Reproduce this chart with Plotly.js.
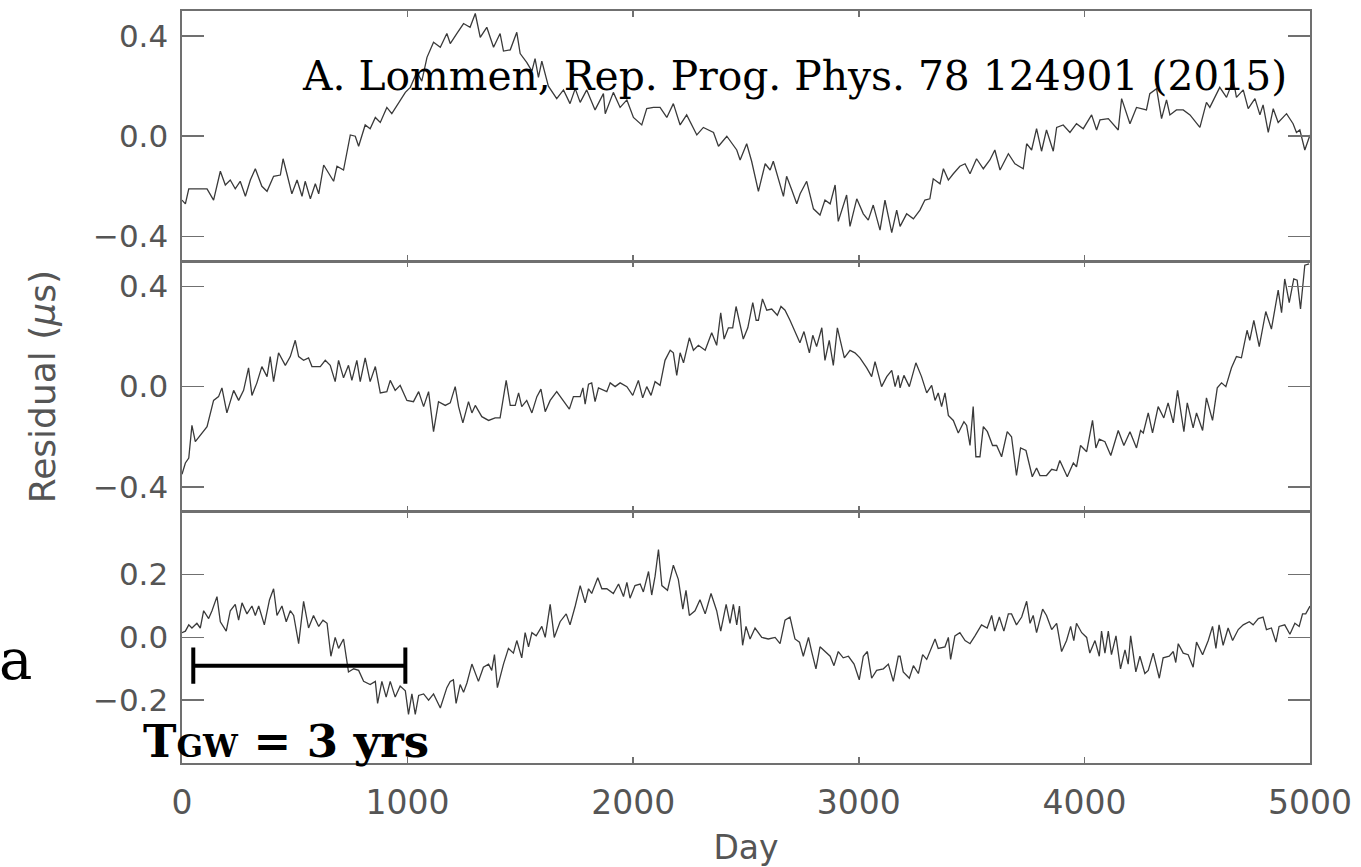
<!DOCTYPE html>
<html>
<head>
<meta charset="utf-8">
<script src="https://cdn.plot.ly/plotly-3.0.1.min.js"></script>
<style>html,body{margin:0;padding:0;background:#fff;}#chart{width:1361px;height:867px;}</style>
</head>
<body>
<div id="chart"></div>
<script>
// [day, residual (µs)], top panel
const topSeries = [[0,-0.255],[15,-0.27],[30,-0.21],[66,-0.21],[111,-0.21],[140,-0.255],[170,-0.14],[192,-0.195],[214,-0.175],[236,-0.21],[258,-0.18],[281,-0.24],[303,-0.175],[325,-0.13],[354,-0.2],[377,-0.22],[406,-0.16],[436,-0.155],[448,-0.09],[465,-0.15],[487,-0.23],[510,-0.175],[532,-0.24],[546,-0.18],[569,-0.25],[591,-0.19],[606,-0.23],[628,-0.115],[650,-0.15],[672,-0.18],[687,-0.12],[716,-0.135],[746,0.005],[768,0.0],[783,-0.04],[812,0.045],[834,0.03],[857,0.075],[879,0.055],[908,0.115],[930,0.09],[967,0.145],[990,0.175],[1012,0.195],[1041,0.255],[1063,0.22],[1086,0.315],[1115,0.375],[1145,0.355],[1174,0.41],
[1189,0.37],[1218,0.41],[1248,0.45],[1277,0.435],[1300,0.49],[1322,0.395],[1351,0.435],[1381,0.355],[1410,0.41],[1425,0.34],[1455,0.345],[1484,0.415],[1499,0.33],[1528,0.295],[1551,0.26],[1565,0.31],[1580,0.235],[1595,0.3],[1624,0.2],[1661,0.15],[1691,0.185],[1720,0.13],[1743,0.19],[1765,0.135],[1794,0.185],[1831,0.105],[1868,0.17],[1876,0.09],[1912,0.175],[1942,0.115],[1972,0.145],[2001,0.075],[2038,0.045],[2060,0.11],[2090,0.115],[2119,0.115],[2149,0.075],[2178,0.13],[2208,0.045],[2237,0.085],[2282,0.005],[2311,0.035],[2356,0.015],[2378,-0.04],[2415,0.0],[2459,-0.055],[2474,-0.095],[2503,-0.03],[2525,-0.1],[2555,-0.22],[2585,-0.11],[2607,-0.135],[2621,-0.1],[2666,-0.24],[2680,-0.16],[2703,-0.215],[2725,-0.27],[2740,-0.23],[2769,-0.18],[2799,-0.29],[2828,-0.315],[2850,-0.255],[2873,-0.27],[2895,-0.195],[2909,-0.34],[2946,-0.235],[2961,-0.36],[2991,-0.25],[3020,-0.31],[3042,-0.335],[3064,-0.275],[3094,-0.375],[3116,-0.255],[3146,-0.385],[3168,-0.295],
[3183,-0.36],[3212,-0.31],[3242,-0.33],[3271,-0.295],[3293,-0.255],[3315,-0.25],[3330,-0.17],[3360,-0.19],[3375,-0.13],[3397,-0.175],[3419,-0.15],[3448,-0.12],[3471,-0.11],[3493,-0.15],[3522,-0.09],[3552,-0.13],[3581,-0.095],[3603,-0.055],[3626,-0.135],[3663,-0.07],[3692,-0.11],[3729,-0.13],[3744,-0.03],[3766,-0.055],[3788,0.03],[3810,-0.06],[3832,0.025],[3862,-0.06],[3877,0.035],[3906,0.045],[3936,0.015],[3965,0.05],[3995,0.03],[4032,0.085],[4054,0.025],[4069,0.065],[4106,0.07],[4150,0.025],[4165,0.15],[4202,0.05],[4231,0.115],[4275,0.105],[4290,0.17],[4320,0.19],[4342,0.07],[4364,0.145],[4379,0.085],[4408,0.105],[4438,0.105],[4468,0.085],[4512,0.035],[4541,0.135],[4556,0.115],[4600,0.195],[4630,0.155],[4660,0.225],[4674,0.155],[4704,0.185],[4726,0.11],[4756,0.15],[4778,0.085],[4792,0.125],[4815,0.015],[4837,0.11],[4859,0.055],[4896,0.09],[4925,0.05],[4940,0.015],[4955,0.025],[4977,-0.055],[5000,0.005]];

// middle panel
const midSeries = [[0,-0.35],[15,-0.305],[30,-0.285],[44,-0.155],[59,-0.22],[81,-0.195],[111,-0.16],[140,-0.055],[162,-0.04],[177,-0.005],[199,-0.105],[229,-0.015],[251,-0.055],[273,-0.015],[295,0.075],[310,-0.035],[332,0.015],[354,0.08],[377,0.04],[391,0.12],[406,0.02],[428,0.135],[458,0.085],[480,0.12],[502,0.185],[517,0.12],[539,0.105],[561,0.115],[576,0.08],[613,0.08],[635,0.105],[657,0.085],[679,0.02],[694,0.105],[716,0.035],[738,0.085],[753,0.025],[775,0.105],[790,0.02],[812,0.115],[834,0.02],[857,0.08],[879,-0.025],[908,-0.02],[923,0.025],[945,-0.015],[967,0.005],[997,-0.055],[1026,-0.06],[1049,-0.02],[1071,-0.08],[1093,-0.02],[1115,-0.18],[1137,-0.06],[1167,-0.075],
[1189,-0.065],[1211,0.0],[1226,-0.08],[1245,-0.145],[1270,-0.06],[1285,-0.105],[1300,-0.075],[1329,-0.12],[1359,-0.135],[1388,-0.125],[1410,-0.125],[1437,0.025],[1455,-0.075],[1477,-0.075],[1492,-0.025],[1506,-0.08],[1528,-0.055],[1551,-0.105],[1573,-0.04],[1591,-0.01],[1610,-0.1],[1632,-0.055],[1661,-0.02],[1691,-0.06],[1717,-0.09],[1735,-0.04],[1765,-0.04],[1777,-0.005],[1787,-0.07],[1802,0.01],[1816,0.015],[1831,-0.06],[1846,-0.005],[1883,-0.02],[1898,0.015],[1920,0.0],[1942,0.015],[1972,0.0],[1998,-0.035],[2023,0.025],[2042,-0.045],[2060,0.0],[2079,-0.035],[2097,0.02],[2119,0.005],[2141,0.105],[2164,0.145],[2178,0.135],[2193,0.045],[2208,0.135],[2223,0.095],[2249,0.195],[2267,0.145],[2289,0.165],[2319,0.145],[2348,0.215],[2370,0.165],[2388,0.295],[2403,0.19],[2422,0.235],[2441,0.235],[2456,0.32],[2488,0.19],[2508,0.235],[2530,0.335],[2545,0.265],[2555,0.265],[2573,0.35],[2592,0.305],[2614,0.31],[2639,0.285],[2655,0.32],[2673,0.305],[2695,0.265],[2717,0.22],[2739,0.175],[2757,0.22],[2781,0.135],[2796,0.205],[2813,0.16],[2836,0.235],[2850,0.105],[2869,0.185],[2887,0.085],[2905,0.235],[2936,0.115],[2961,0.145],[2983,0.135],[3005,0.115],[3035,0.075],[3057,0.04],[3072,0.1],[3101,0.0],[3124,0.04],[3146,0.065],[3161,0.0],[3175,0.045],
[3183,-0.005],[3200,0.045],[3224,0.0],[3253,0.095],[3278,0.04],[3301,-0.025],[3323,0.005],[3338,-0.055],[3352,-0.025],[3367,-0.08],[3382,-0.025],[3397,-0.115],[3419,-0.135],[3441,-0.185],[3466,-0.14],[3478,-0.155],[3493,-0.235],[3507,-0.08],[3519,-0.28],[3537,-0.28],[3552,-0.16],[3570,-0.18],[3593,-0.235],[3611,-0.235],[3633,-0.28],[3658,-0.18],[3677,-0.2],[3699,-0.355],[3717,-0.245],[3741,-0.255],[3769,-0.36],[3788,-0.325],[3803,-0.355],[3832,-0.355],[3855,-0.33],[3877,-0.335],[3891,-0.295],[3924,-0.36],[3951,-0.305],[3965,-0.32],[3983,-0.235],[4010,-0.26],[4036,-0.135],[4051,-0.245],[4066,-0.21],[4091,-0.22],[4117,-0.275],[4150,-0.175],[4175,-0.235],[4202,-0.18],[4231,-0.245],[4249,-0.175],[4261,-0.185],[4283,-0.105],[4302,-0.185],[4327,-0.08],[4352,-0.125],[4371,-0.065],[4394,-0.145],[4413,-0.015],[4441,-0.18],[4456,-0.065],[4482,-0.165],[4497,-0.105],[4524,-0.175],[4541,-0.045],[4568,-0.135],[4589,-0.005],[4608,0.015],[4627,0.0],[4652,0.075],[4674,0.12],[4696,0.115],[4721,0.225],[4733,0.185],[4751,0.265],[4775,0.16],[4804,0.3],[4829,0.23],[4859,0.385],[4874,0.295],[4888,0.43],[4908,0.335],[4928,0.43],[4943,0.425],[4958,0.31],[4977,0.485],[4996,0.49]];

// bottom panel
const botSeries = [[0,0.015],[15,0.02],[30,0.04],[44,0.03],[66,0.045],[81,0.03],[96,0.085],[118,0.06],[133,0.085],[155,0.13],[170,0.05],[196,0.02],[214,0.085],[236,0.105],[251,0.055],[266,0.11],[288,0.075],[310,0.1],[325,0.07],[340,0.1],[365,0.04],[388,0.12],[406,0.155],[421,0.07],[443,0.1],[462,0.05],[480,0.085],[495,0.07],[517,-0.02],[539,0.115],[561,0.03],[583,0.07],[606,0.035],[625,0.055],[643,0.045],[660,-0.06],[679,0.0],[694,-0.035],[716,-0.005],[738,-0.11],[761,-0.1],[783,-0.105],[805,-0.14],[834,-0.15],[857,-0.14],[867,-0.21],[886,-0.14],[905,-0.19],[923,-0.14],[945,-0.19],[967,-0.155],[990,-0.17],[1004,-0.245],[1019,-0.18],[1034,-0.245],[1049,-0.185],[1071,-0.18],[1093,-0.2],[1115,-0.18],[1145,-0.225],[1174,-0.16],
[1189,-0.14],[1203,-0.135],[1215,-0.21],[1233,-0.15],[1248,-0.175],[1263,-0.145],[1285,-0.085],[1314,-0.14],[1336,-0.095],[1359,-0.085],[1373,-0.105],[1385,-0.055],[1398,-0.16],[1425,-0.085],[1447,-0.035],[1469,-0.05],[1484,-0.01],[1506,-0.065],[1521,0.015],[1536,-0.03],[1551,0.015],[1570,0.005],[1595,0.035],[1610,0.0],[1632,0.105],[1650,0.0],[1676,0.05],[1703,0.075],[1720,0.04],[1743,0.1],[1765,0.165],[1787,0.11],[1802,0.155],[1816,0.14],[1843,0.19],[1861,0.155],[1883,0.155],[1912,0.14],[1935,0.17],[1957,0.13],[1972,0.175],[1986,0.125],[2008,0.165],[2031,0.17],[2045,0.145],[2068,0.21],[2082,0.135],[2097,0.195],[2112,0.28],[2127,0.165],[2152,0.15],[2178,0.23],[2200,0.185],[2220,0.09],[2234,0.15],[2249,0.07],[2274,0.085],[2296,0.12],[2319,0.075],[2345,0.14],[2370,0.085],[2388,0.02],[2412,0.105],[2429,0.045],[2444,0.105],[2459,0.04],[2471,0.1],[2485,-0.025],[2500,0.035],[2518,-0.005],[2540,0.03],[2570,0.0],[2599,-0.005],[2629,0.0],[2651,-0.02],[2673,0.055],[2695,0.065],[2717,-0.005],[2737,-0.015],[2754,-0.06],[2777,0.0],[2791,-0.045],[2810,-0.1],[2828,-0.03],[2850,-0.045],[2873,-0.06],[2890,-0.09],[2909,-0.045],[2931,-0.065],[2954,-0.06],[2979,-0.085],[3002,-0.135],[3020,-0.06],[3038,-0.045],[3057,-0.13],[3079,-0.105],[3109,-0.1],[3131,-0.085],[3153,-0.14],[3175,-0.06],
[3183,-0.06],[3197,-0.11],[3224,-0.13],[3242,-0.09],[3264,-0.115],[3283,-0.055],[3301,-0.07],[3315,-0.045],[3338,-0.005],[3352,-0.035],[3382,-0.03],[3397,0.0],[3407,-0.07],[3426,0.005],[3448,0.015],[3471,-0.01],[3493,-0.02],[3515,0.005],[3544,0.04],[3569,0.03],[3589,0.07],[3603,0.02],[3623,0.065],[3643,0.02],[3663,0.075],[3677,0.075],[3699,0.04],[3722,0.065],[3744,0.115],[3759,0.045],[3773,0.07],[3788,0.015],[3815,0.09],[3832,0.07],[3855,0.025],[3877,0.045],[3899,-0.045],[3921,-0.01],[3939,0.035],[3953,-0.01],[3965,0.045],[3988,0.015],[4010,0.0],[4024,-0.05],[4047,-0.01],[4066,-0.06],[4076,0.02],[4091,-0.05],[4106,0.02],[4120,-0.055],[4140,0.005],[4160,-0.1],[4180,-0.04],[4194,-0.085],[4205,0.005],[4228,-0.11],[4246,-0.06],[4268,-0.115],[4283,-0.105],[4305,-0.05],[4332,-0.13],[4349,-0.065],[4376,-0.06],[4394,-0.045],[4405,-0.08],[4416,-0.02],[4438,-0.05],[4460,-0.055],[4482,-0.095],[4497,-0.015],[4524,-0.055],[4549,-0.01],[4568,0.035],[4583,-0.035],[4597,0.04],[4615,-0.025],[4637,0.03],[4657,-0.01],[4682,0.025],[4704,0.04],[4731,0.05],[4748,0.04],[4771,0.06],[4792,0.065],[4807,0.025],[4829,0.03],[4849,-0.015],[4863,0.035],[4888,0.04],[4911,0.01],[4933,0.045],[4952,0.035],[4967,0.075],[4981,0.075],[5000,0.1]];

// T_GW scale bar (days, residual)
const scaleBarDay = [50, 990];
const scaleBarRes = [-0.09, -0.09];

const xTickVals = [0, 1000, 2000, 3000, 4000, 5000];
const yTicksWide = [-0.4, 0, 0.4];
const yTicksNarrow = [-0.2, 0, 0.2];

const lineColor = '#3a3a3a';
const frame = '#707070';
const textGray = '#555555';
const yTickFont = {family: 'DejaVu Sans', size: 31, color: textGray};
const xTickFont = {family: 'DejaVu Sans', size: 33, color: textGray};

function trace(series, xa, ya) {
  return {
    x: series.map(p => p[0]), y: series.map(p => p[1]),
    xaxis: xa, yaxis: ya, type: 'scatter', mode: 'lines',
    line: {color: lineColor, width: 1.3}, hoverinfo: 'skip'
  };
}

const data = [
  trace(topSeries, 'x3', 'y'),
  trace(midSeries, 'x2', 'y2'),
  trace(botSeries, 'x', 'y3'),
  {x: scaleBarDay, y: scaleBarRes, xaxis: 'x', yaxis: 'y3', type: 'scatter',
   mode: 'lines+markers', line: {color: '#000', width: 4},
   marker: {symbol: 'line-ns', size: 26, line: {color: '#000', width: 4}}, hoverinfo: 'skip'}
];

const base = {showline: true, linecolor: frame, linewidth: 1.6, mirror: 'ticks',
  ticks: 'inside', tickcolor: frame, tickwidth: 1.6, zeroline: false, showgrid: false};

const xBase = Object.assign({}, base, {range: [0, 5000], tickvals: xTickVals, ticklen: 6, domain: [0, 1], tickfont: xTickFont});
const yBase = Object.assign({}, base, {ticklen: 22, tickformat: '.1f', ticklabelstandoff: 6, tickfont: yTickFont});

const layout = {
  width: 1361, height: 867,
  margin: {l: 182, r: 51, t: 11, b: 104},
  paper_bgcolor: '#fff', plot_bgcolor: '#fff', showlegend: false,
  xaxis: Object.assign({}, xBase, {anchor: 'y3', ticklabelstandoff: 10,
    title: {text: 'Day', font: {family: 'DejaVu Sans', size: 33, color: textGray}, standoff: 19}}),
  xaxis2: Object.assign({}, xBase, {anchor: 'y2', matches: 'x', showticklabels: false}),
  xaxis3: Object.assign({}, xBase, {anchor: 'y', matches: 'x', showticklabels: false}),
  yaxis: Object.assign({}, yBase, {anchor: 'x3', domain: [0.667, 1], range: [-0.5, 0.5], tickvals: yTicksWide}),
  yaxis2: Object.assign({}, yBase, {anchor: 'x2', domain: [0.334, 0.667], range: [-0.5, 0.5], tickvals: yTicksWide,
    title: {text: 'Residual (<i>μ</i>s)', font: {family: 'DejaVu Sans', size: 36, color: textGray}, standoff: 26}}),
  yaxis3: Object.assign({}, yBase, {anchor: 'x', domain: [0, 0.334], range: [-0.4, 0.4], tickvals: yTicksNarrow}),
  annotations: [
    {text: 'A. Lommen, Rep. Prog. Phys. 78 124901 (2015)', xref: 'paper', yref: 'paper',
     x: 0.1048, y: 0.913, xanchor: 'left', yanchor: 'middle', showarrow: false,
     font: {family: 'DejaVu Serif', size: 40.8, color: '#000'}},
    {text: 'a', xref: 'paper', yref: 'paper', x: -0.131, y: 0.137, xanchor: 'right', yanchor: 'middle',
     showarrow: false, font: {family: 'DejaVu Serif', size: 56, color: '#000'}},
    {text: '<b>T<span style="font-size:31px">GW</span> = 3 yrs</b>', xref: 'paper', yref: 'paper', x: -0.036, y: 0.029,
     xanchor: 'left', yanchor: 'middle', showarrow: false,
     font: {family: 'DejaVu Serif', size: 45, color: '#000'}}
  ]
};

Plotly.newPlot('chart', data, layout, {staticPlot: true, displayModeBar: false});
</script>
</body>
</html>
